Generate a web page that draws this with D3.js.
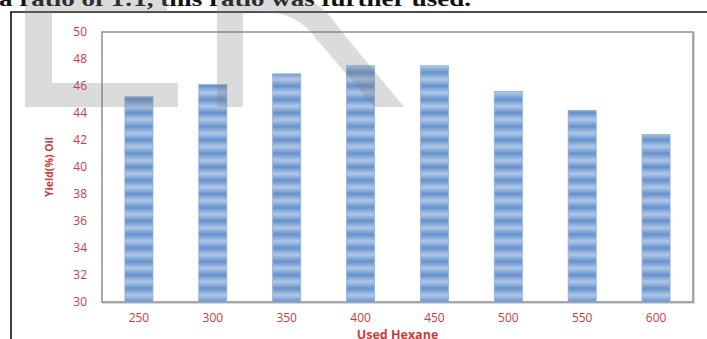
<!DOCTYPE html>
<html>
<head>
<meta charset="utf-8">
<script src="https://cdn.jsdelivr.net/npm/d3@7"></script>
<style>
  html, body { margin: 0; padding: 0; background: #fff; }
  svg { display: block; }
</style>
</head>
<body>
<svg id="chart" width="707" height="339"></svg>
<script>
// Oil yield for each volume of hexane used
const hexane = ["250", "300", "350", "400", "450", "500", "550", "600"];
const yieldOil = [45.2, 46.1, 46.9, 47.5, 47.5, 45.6, 44.2, 42.4];
const yTicks = [30, 32, 34, 36, 38, 40, 42, 44, 46, 48, 50];

const svg = d3.select("#chart");
const W = 707, H = 339;
const plot = { left: 102, right: 693, top: 32, bottom: 302 };
const red = "#cc3b3b";

// striped blue fill for the bars
const defs = svg.append("defs");
const grad = defs.append("linearGradient")
  .attr("id", "stripeGrad").attr("x1", 0).attr("y1", 0).attr("x2", 0).attr("y2", 1);
grad.append("stop").attr("offset", "0%").attr("stop-color", "#6690cb");
grad.append("stop").attr("offset", "50%").attr("stop-color", "#b0c8e8");
grad.append("stop").attr("offset", "100%").attr("stop-color", "#6690cb");
const pat = defs.append("pattern")
  .attr("id", "stripes").attr("patternUnits", "userSpaceOnUse")
  .attr("width", 60).attr("height", 13.5).attr("y", plot.bottom);
pat.append("rect").attr("width", 60).attr("height", 13.5).attr("fill", "url(#stripeGrad)");

const soft = defs.append("filter").attr("id", "soft").attr("x", "-5%").attr("y", "-5%")
  .attr("width", "110%").attr("height", "110%");
soft.append("feGaussianBlur").attr("stdDeviation", 0.7);

// outer frame
svg.append("path")
  .attr("d", `M11,${H + 2} L11,12 L${W + 2},12`)
  .attr("fill", "none").attr("stroke", "#111").attr("stroke-width", 1.6);

// heading text above the frame
svg.append("text")
  .attr("x", -1).attr("y", 6)
  .attr("font-family", "'Liberation Serif', 'Times New Roman', serif")
  .attr("font-weight", "bold").attr("font-size", 21)
  .attr("textLength", 472).attr("lengthAdjust", "spacingAndGlyphs")
  .attr("fill", "#111")
  .text("a ratio of 1:1, this ratio was further used.");

const x = d3.scaleBand().domain(hexane).range([plot.left, plot.right])
  .paddingInner(0.62).paddingOuter(0.31);
const y = d3.scaleLinear().domain([30, 50]).range([plot.bottom, plot.top]);

// plot area
svg.append("rect")
  .attr("x", plot.left + 1).attr("y", plot.top + 1)
  .attr("width", plot.right - plot.left).attr("height", plot.bottom - plot.top)
  .attr("fill", "none").attr("stroke", "#d8d8d8").attr("stroke-width", 2)
  .attr("filter", "url(#soft)");
svg.append("rect")
  .attr("x", plot.left).attr("y", plot.top)
  .attr("width", plot.right - plot.left).attr("height", plot.bottom - plot.top)
  .attr("fill", "#fff").attr("stroke", "#8f8f8f").attr("stroke-width", 1.5);

// bars
svg.append("g").selectAll("rect")
  .data(hexane.map((h, i) => ({ h, v: yieldOil[i] })))
  .join("rect")
  .attr("x", d => x(d.h))
  .attr("y", d => y(d.v))
  .attr("width", x.bandwidth())
  .attr("height", d => y(30) - y(d.v))
  .attr("fill", "url(#stripes)")
  .attr("stroke", "#8fb0dc").attr("stroke-width", 0.8)
  .attr("filter", "url(#soft)");

// y axis labels
const yAxis = d3.axisLeft(y).tickValues(yTicks).tickSize(0).tickPadding(15);
const gy = svg.append("g").attr("transform", `translate(${plot.left},0)`).call(yAxis);
gy.select(".domain").remove();
gy.selectAll("text")
  .attr("fill", red).attr("font-size", 12)
  .attr("font-family", "'Open Sans', 'DejaVu Sans', sans-serif");

// x axis labels
const xAxis = d3.axisBottom(x).tickSize(0).tickPadding(11);
const gx = svg.append("g").attr("transform", `translate(0,${plot.bottom})`).call(xAxis);
gx.select(".domain").remove();
gx.selectAll("text")
  .attr("fill", red).attr("font-size", 12)
  .attr("font-family", "'Open Sans', 'DejaVu Sans', sans-serif");

// axis titles
svg.append("text")
  .attr("x", (plot.left + plot.right) / 2).attr("y", 339)
  .attr("text-anchor", "middle").attr("fill", red)
  .attr("font-family", "'Open Sans', 'DejaVu Sans', sans-serif")
  .attr("font-weight", "bold").attr("font-size", 12.5)
  .text("Used Hexane");
svg.append("text")
  .attr("transform", `translate(53,${(plot.top + plot.bottom) / 2}) rotate(-90)`)
  .attr("text-anchor", "middle").attr("fill", red)
  .attr("font-family", "'Open Sans', 'DejaVu Sans', sans-serif")
  .attr("font-weight", "bold").attr("font-size", 10.5)
  .text("Yield(%) Oil");

// translucent "LR" mark laid over the figure
const mark = svg.append("g").attr("fill", "#7a7a7a").attr("fill-opacity", 0.27);
mark.append("path").attr("d",
  "M25,0 L167,0 L167,12 L52,12 L52,83 L178,83 L178,107 L25,107 Z");
mark.append("path").attr("d",
  "M217,0 L306,0 C322,4 332,18 342,32 L404,107 L374,107 L314,36 C302,20 286,12 262,12 L243,12 L243,107 L217,107 Z");
</script>
</body>
</html>
